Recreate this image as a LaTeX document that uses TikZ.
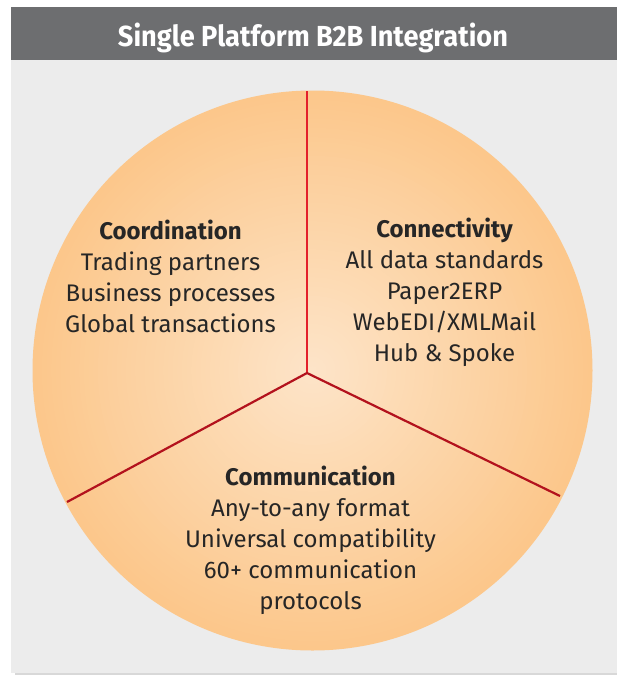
\documentclass[tikz,border=0pt]{standalone}
\usepackage{fontspec}
\setmainfont{Fira Sans}
\usepackage{graphicx}

\definecolor{panelgray}{HTML}{ECECEC}
\definecolor{titlegray}{HTML}{6D6E70}
\definecolor{shadowgray}{HTML}{D8D8D8}
\definecolor{peachout}{HTML}{FCC78B}
\definecolor{peachin}{HTML}{FDE4C8}
\definecolor{spokered}{HTML}{E3202B}
\definecolor{spokedark}{HTML}{B3121D}
\definecolor{inkgray}{HTML}{262626}

\begin{document}
\begin{tikzpicture}[x=1pt, y=-1pt,
	heading/.style={anchor=base, inner sep=0pt, text=inkgray, font=\fontsize{24}{31}\selectfont\bfseries},
	item/.style={anchor=base, inner sep=0pt, text=inkgray, font=\fontsize{24}{31}\selectfont},
	spoke/.style={line width=2.2pt}]
	\useasboundingbox (0,0) rectangle (617,675);

	% panel and title bar
	\fill[shadowgray] (15,673) rectangle (617,675);
	\fill[panelgray] (11,60) rectangle (617,673);
	\fill[titlegray] (11,7) rectangle (617,60);
	\node[anchor=base, inner sep=0pt, text=white, font=\fontsize{29}{29}\selectfont\bfseries] (title) at (313,46)
		{\resizebox{390pt}{\height}{Single Platform B2B Integration}};

	% shaded disc
	\begin{scope}
		\foreach \i in {0,...,59}
		{
			\pgfmathsetmacro{\p}{100*\i/59}
			\pgfmathsetmacro{\r}{280*(1-\i/60)}
			\fill[peachin!\p!peachout] (312.5,370.5) circle [radius=\r pt];
		}
	\end{scope}

	% spokes
	\coordinate (hub) at (307,373);
	\coordinate (top) at (307,91);
	\coordinate (left) at (67,502);
	\coordinate (right) at (560,496);
	\draw[spoke, spokered] (hub) -- (top);
	\draw[spoke, spokedark] (left) -- (hub) -- (right);

	% sector texts
	\node[heading] (coord) at (170.5,239) {Coordination};
	\foreach \t [count=\k] in {Trading partners, Business processes, Global transactions}
	{
		\node[item] (coord-\k) at (170.5,{239+31*\k}) {\t};
	}

	\node[heading] (conn) at (444.5,237) {Connectivity};
	\foreach \t [count=\k] in {All data standards, Paper2ERP, WebEDI/XMLMail, Hub \& Spoke}
	{
		\node[item] (conn-\k) at (444.5,{237+31*\k}) {\t};
	}

	\node[heading] (comm) at (310.5,485) {Communication};
	\foreach \t [count=\k] in {Any-to-any format, Universal compatibility, 60+ communication, protocols}
	{
		\node[item] (comm-\k) at (310.5,{485+31*\k}) {\t};
	}
\end{tikzpicture}
\end{document}
